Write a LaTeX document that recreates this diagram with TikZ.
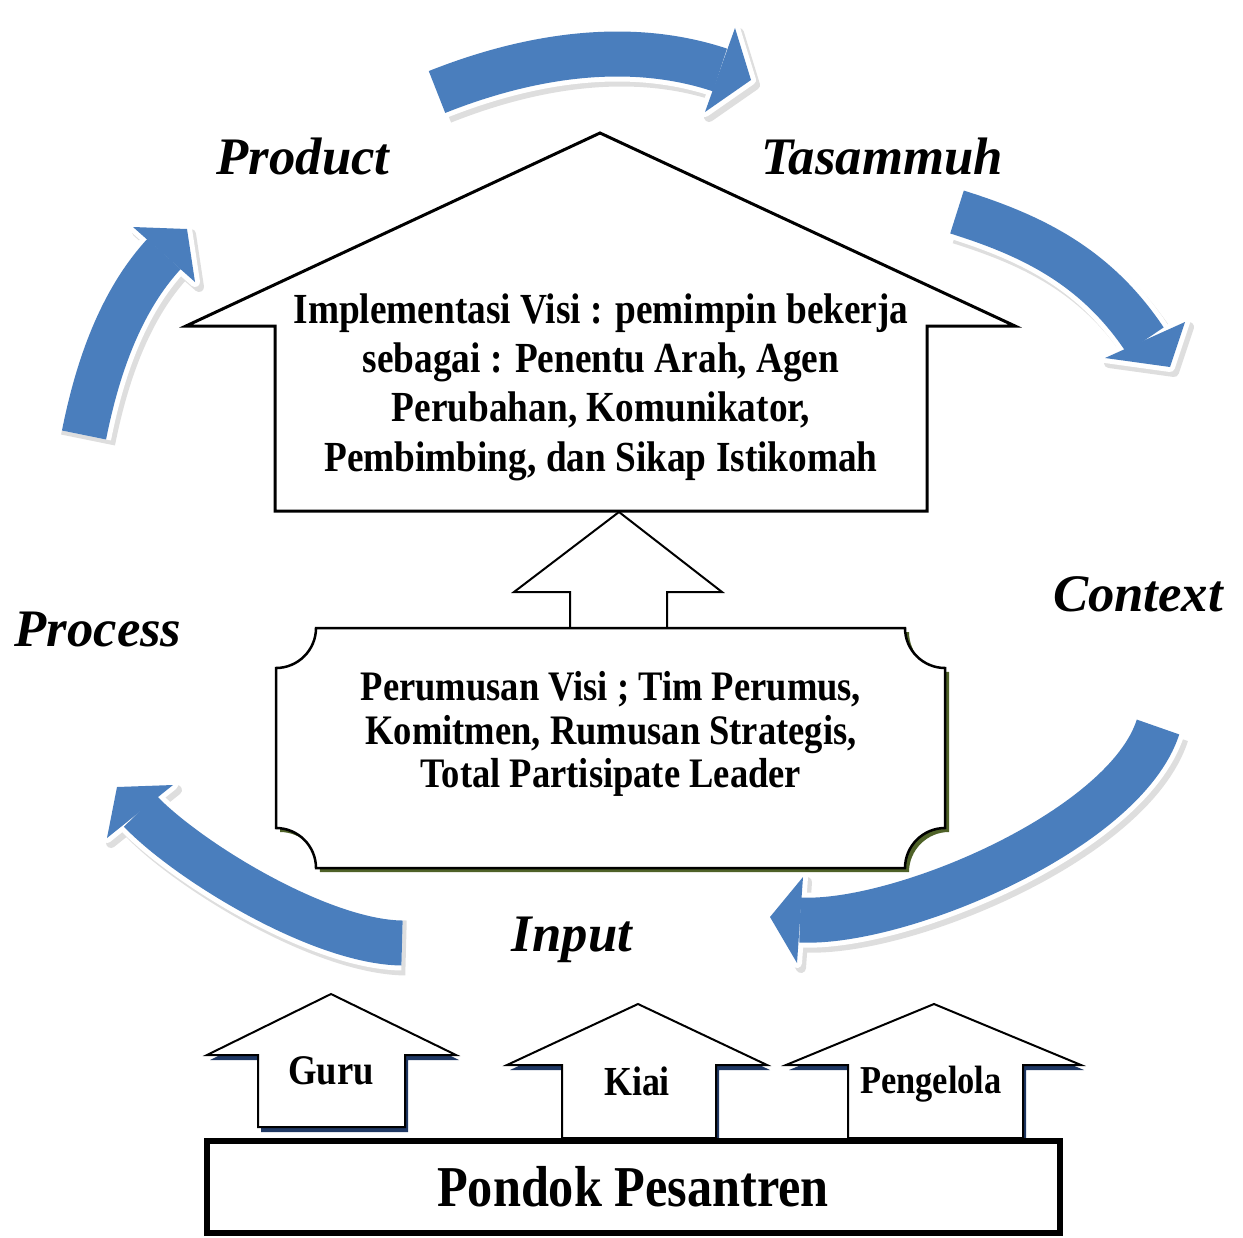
\documentclass[tikz,border=0pt]{standalone}
\usepackage{fontspec}
\setmainfont{Liberation Serif}
\newfontfamily\condf[FakeStretch=0.87]{Liberation Serif}
\definecolor{arrowblue}{RGB}{74,126,189}
\definecolor{olivesh}{RGB}{79,98,40}
\definecolor{navysh}{RGB}{31,56,100}
\newcommand{\bluearrow}[7]{%
  \begin{scope}[shift={(4,5)}]
    \draw[line width=1.1cm, black!13] #1 .. controls #2 and #3 .. #4;
    \filldraw[black!13, line width=0.2cm, line join=round] #5 -- #6 -- #7 -- cycle;
  \end{scope}
  \draw[line width=1.1cm, white] #1 .. controls #2 and #3 .. #4;
  \filldraw[white, line width=0.2cm, line join=round] #5 -- #6 -- #7 -- cycle;
  \draw[line width=0.9cm, arrowblue] #1 .. controls #2 and #3 .. #4;
  \fill[arrowblue] #5 -- #6 -- #7 -- cycle;
}
\newcommand{\bracketpath}{(316,628) -- (905,628) .. controls (905,650) and (923,668) .. (945,668) -- (945,828) .. controls (923,828) and (905,846) .. (905,868) -- (316,868) .. controls (316,846) and (298,828) .. (276,828) -- (276,668) .. controls (298,668) and (316,650) .. (316,628) -- cycle}
\begin{document}
\begin{tikzpicture}[x=0.02cm,y=-0.02cm,
  lbl/.style={inner sep=0pt, font=\fontsize{30}{36}\selectfont\bfseries\itshape},
  boxtext/.style={inner sep=0pt, align=center},
  outline/.style={draw=black, fill=white, line join=miter},
  upshadow/.style={fill=navysh},
]
\useasboundingbox (0,0) rectangle (1243,1237);

% curved cycle arrows
\bluearrow{(437,92)}{(530,55)}{(630,40)}{(720,70)}{(735,28)}{(751,80)}{(705,112)}
\bluearrow{(957,212)}{(1030,235)}{(1095,265)}{(1145,340)}{(1185,322)}{(1170,367)}{(1105,358)}
\bluearrow{(1158,727)}{(1125,830)}{(900,925)}{(800,920)}{(803,877)}{(770,917)}{(797,963)}
\bluearrow{(402,943)}{(320,942)}{(188,861)}{(140,811)}{(173,785)}{(117,787)}{(107,838)}
\bluearrow{(84,435)}{(95,380)}{(116,306)}{(164,254)}{(133,227)}{(187,229)}{(195,282)}

% cycle labels
\node[lbl] (product) at (303,157) {Product};
\node[lbl] (tasammuh) at (882,157) {Tasammuh};
\node[lbl] (context) at (1138,594) {Context};
\node[lbl] (process) at (98,629) {Process};
\node[lbl] (input) at (572,940) {Input};

% big house arrow
\draw[outline, line width=0.06cm] (186,326) -- (600,133) -- (1015,326) -- (927,326) -- (927,511) -- (275,511) -- (275,326) -- cycle;
\node[boxtext, font=\condf\bfseries\fontsize{24.4}{28.1}\selectfont] (vision) at (601,387)
  {Implementasi Visi : pemimpin bekerja\\ sebagai : Penentu Arah, Agen\\ Perubahan, Komunikator,\\ Pembimbing, dan Sikap Istikomah};

% small up arrow between boxes
\draw[outline, line width=0.04cm] (514,592) -- (619,512) -- (722,592) -- (667,592) -- (667,640) -- (570,640) -- (570,592) -- cycle;

% bracket box
\fill[olivesh, shift={(4,4)}] \bracketpath;
\draw[outline, line width=0.05cm] \bracketpath;
\node[boxtext, font=\condf\bfseries\fontsize{23.9}{24.8}\selectfont] (formulation) at (611,734)
  {Perumusan Visi ; Tim Perumus,\\ Komitmen, Rumusan Strategis,\\ Total Partisipate Leader};

% input arrows
\fill[upshadow, shift={(3,5)}] (207,1055) -- (331,994) -- (456,1055) -- (405,1055) -- (405,1127) -- (258,1127) -- (258,1055) -- cycle;
\draw[outline, line width=0.04cm] (207,1055) -- (331,994) -- (456,1055) -- (405,1055) -- (405,1127) -- (258,1127) -- (258,1055) -- cycle;
\node[font=\condf\bfseries\fontsize{24}{28}\selectfont, inner sep=0pt] (guru) at (331,1071) {Guru};

\fill[upshadow, shift={(3,5)}] (507,1065) -- (638,1004) -- (767,1065) -- (716,1065) -- (716,1138) -- (562,1138) -- (562,1065) -- cycle;
\draw[outline, line width=0.04cm] (507,1065) -- (638,1004) -- (767,1065) -- (716,1065) -- (716,1138) -- (562,1138) -- (562,1065) -- cycle;
\node[font=\condf\bfseries\fontsize{23.5}{28}\selectfont, inner sep=0pt] (kiai) at (637,1081) {Kiai};

\fill[upshadow, shift={(3,5)}] (786,1065) -- (934,1004) -- (1081,1065) -- (1023,1065) -- (1023,1138) -- (848,1138) -- (848,1065) -- cycle;
\draw[outline, line width=0.04cm] (786,1065) -- (934,1004) -- (1081,1065) -- (1023,1065) -- (1023,1138) -- (848,1138) -- (848,1065) -- cycle;
\node[font=\condf\bfseries\fontsize{22.5}{28}\selectfont, inner sep=0pt] (pengelola) at (931,1084) {Pengelola};

% base box
\draw[outline, line width=0.12cm] (207,1141) rectangle (1060,1233);
\node[font=\condf\bfseries\fontsize{32.9}{38}\selectfont, inner sep=0pt] (pondok) at (633,1187) {Pondok Pesantren};
\end{tikzpicture}
\end{document}
